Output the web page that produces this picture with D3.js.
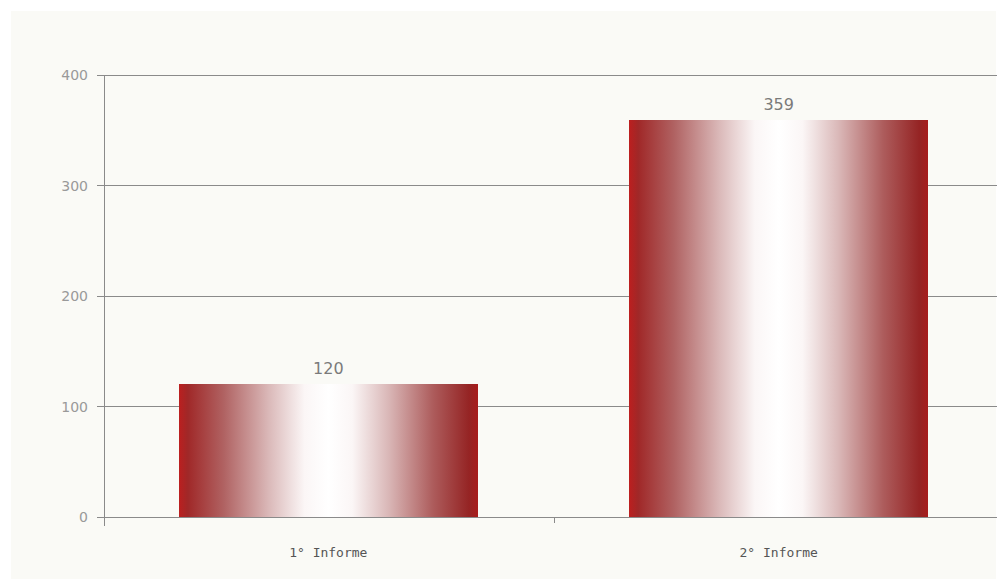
<!DOCTYPE html>
<html><head><meta charset="utf-8">
<script src="https://cdn.jsdelivr.net/npm/d3@7"></script>
<style>html,body{margin:0;padding:0;background:#fff;}svg{display:block;}</style>
</head><body>
<svg id="c" width="997" height="579"></svg>
<script>
const categories = ["1° Informe", "2° Informe"];
const values = [120, 359];
const yTicks = [0, 100, 200, 300, 400];

const svg = d3.select("#c");
const W = 997, H = 579;
const m = {left: 104, top: 75, right: -6, bottom: 62};

svg.append("rect").attr("x", 11).attr("y", 11).attr("width", 985).attr("height", H - 11)
  .attr("fill", "#fafaf6");

const x = d3.scaleBand().domain(categories).range([m.left, W - m.right]).paddingInner(0.336).paddingOuter(0.166);
const y = d3.scaleLinear().domain([0, 400]).range([H - m.bottom, m.top]);

const defs = svg.append("defs");
const g = defs.append("linearGradient").attr("id", "barg").attr("x1", "0%").attr("x2", "100%").attr("y1", "0%").attr("y2", "0%");
[[0, "#bc1f1f"], [0.03, "#a02828"], [0.15, "#b06262"], [0.3, "#dab8b8"], [0.42, "#fbf6f6"], [0.5, "#ffffff"], [0.58, "#fbf6f6"], [0.7, "#dab8b8"], [0.85, "#ad5c5c"], [0.97, "#952424"], [1, "#a81c1c"]]
  .forEach(([o, c]) => g.append("stop").attr("offset", o).attr("stop-color", c));

// gridlines
svg.append("g").selectAll("line").data(yTicks).join("line")
  .attr("x1", m.left - 7).attr("x2", W).attr("y1", d => y(d)).attr("y2", d => y(d))
  .attr("stroke", "#8a8a8a").attr("stroke-width", 1).attr("shape-rendering", "crispEdges");

// y axis line
svg.append("line").attr("x1", m.left).attr("x2", m.left).attr("y1", y(400)).attr("y2", y(0) + 9)
  .attr("stroke", "#8a8a8a").attr("shape-rendering", "crispEdges");

// x ticks between categories
const step = x.step();
svg.append("line").attr("x1", m.left + step).attr("x2", m.left + step).attr("y1", y(0)).attr("y2", y(0) + 6)
  .attr("stroke", "#8a8a8a").attr("shape-rendering", "crispEdges");

// y tick labels
svg.append("g").selectAll("text").data(yTicks).join("text")
  .attr("x", m.left - 16).attr("y", d => y(d) + 5).attr("text-anchor", "end")
  .attr("font-family", "DejaVu Sans, sans-serif").attr("font-size", 14).attr("fill", "#999")
  .text(d => d);

// bars
svg.append("g").selectAll("rect").data(values).join("rect")
  .attr("x", (d, i) => x(categories[i])).attr("width", x.bandwidth())
  .attr("y", d => y(d)).attr("height", d => y(0) - y(d))
  .attr("fill", "url(#barg)").attr("shape-rendering", "crispEdges");

// value labels
svg.append("g").selectAll("text").data(values).join("text")
  .attr("x", (d, i) => x(categories[i]) + x.bandwidth() / 2).attr("y", d => y(d) - 10)
  .attr("text-anchor", "middle").attr("font-family", "DejaVu Sans, sans-serif").attr("font-size", 16)
  .attr("fill", "#7a7a7a").text(d => d);

// category labels
svg.append("g").selectAll("text").data(categories).join("text")
  .attr("x", d => x(d) + x.bandwidth() / 2).attr("y", y(0) + 40)
  .attr("text-anchor", "middle").attr("font-family", "DejaVu Sans Mono, monospace").attr("font-size", 13)
  .attr("fill", "#555").text(d => d);
</script>
</body></html>
